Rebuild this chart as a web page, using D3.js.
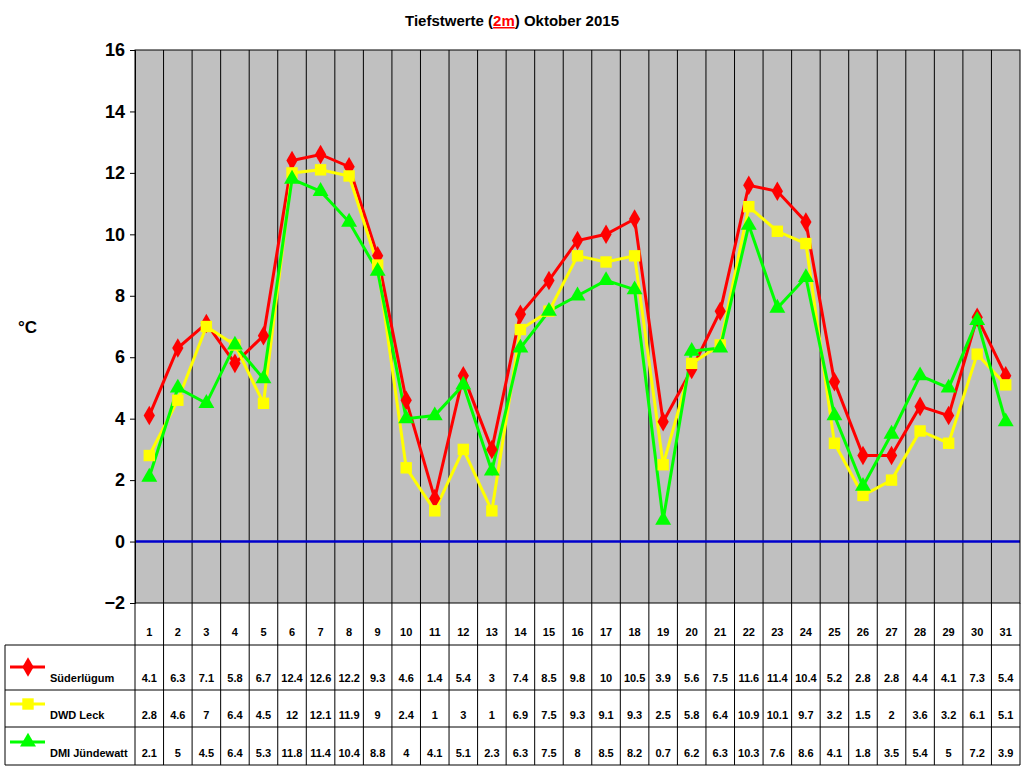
<!DOCTYPE html>
<html><head><meta charset="utf-8">
<script src="https://cdn.jsdelivr.net/npm/d3@7"></script>
<style>body{margin:0;background:#fff}text{font-family:"Liberation Sans",Arial,sans-serif;font-weight:bold}</style>
</head><body><svg id="c" width="1024" height="768"></svg>
<script>
var days = d3.range(1, 32)
var yTicks = [-2, 0, 2, 4, 6, 8, 10, 12, 14, 16]
var suederluegum = [4.1,6.3,7.1,5.8,6.7,12.4,12.6,12.2,9.3,4.6,1.4,5.4,3,7.4,8.5,9.8,10,10.5,3.9,5.6,7.5,11.6,11.4,10.4,5.2,2.8,2.8,4.4,4.1,7.3,5.4]
var dwdLeck = [2.8,4.6,7,6.4,4.5,12,12.1,11.9,9,2.4,1,3,1,6.9,7.5,9.3,9.1,9.3,2.5,5.8,6.4,10.9,10.1,9.7,3.2,1.5,2,3.6,3.2,6.1,5.1]
var dmiJuendewatt = [2.1,5,4.5,6.4,5.3,11.8,11.4,10.4,8.8,4,4.1,5.1,2.3,6.3,7.5,8,8.5,8.2,0.7,6.2,6.3,10.3,7.6,8.6,4.1,1.8,3.5,5.4,5,7.2,3.9]

var series = [
  { name: 'Süderlügum', values: suederluegum, color: '#ff0000', sym: d3.symbolDiamond, size: 110 },
  { name: 'DWD Leck', values: dwdLeck, color: '#ffff00', sym: d3.symbolSquare, size: 130 },
  { name: 'DMI Jündewatt', values: dmiJuendewatt, color: '#00ff00', sym: d3.symbolTriangle, size: 110 }
]

var svg = d3.select('#c')
var L = 135, R = 1020, T = 50, B = 603
var x = d3.scaleBand().domain(days).range([L, R])
var y = d3.scaleLinear().domain([-2, 16]).range([B, T])
var cx = function (d) { return x(d) + x.bandwidth() / 2 }

svg.append('rect').attr('x', L).attr('y', T).attr('width', R - L).attr('height', B - T).attr('fill', '#c0c0c0')

// vertical grid
svg.selectAll('line.v').data(days.slice(1)).enter().append('line')
  .attr('x1', function (d) { return x(d) }).attr('x2', function (d) { return x(d) })
  .attr('y1', T).attr('y2', 765).attr('stroke', '#000')

svg.append('line').attr('x1', L).attr('x2', R).attr('y1', y(0)).attr('y2', y(0)).attr('stroke', '#0000cc').attr('stroke-width', 2.5)

var ax = svg.append('g').attr('transform', 'translate(' + L + ',0)')
  .call(d3.axisLeft(y).tickValues(yTicks).tickSize(5).tickFormat(d3.format('d')))
ax.selectAll('text').attr('font-size', 18).attr('font-weight', 'bold').attr('dx', -2)
ax.select('.domain').attr('stroke', '#000')

svg.append('rect').attr('x', L).attr('y', T).attr('width', R - L).attr('height', B - T).attr('fill', 'none').attr('stroke', '#000')

svg.append('text').attr('x', 18).attr('y', 333).attr('font-size', 17).text('°C')

var title = svg.append('text').attr('x', 512).attr('y', 26).attr('text-anchor', 'middle').attr('font-size', 15)
title.append('tspan').text('Tiefstwerte (')
title.append('tspan').attr('fill', '#ff0000').attr('text-decoration', 'underline').text('2m')
title.append('tspan').text(') Oktober 2015')

var line = d3.line().x(function (d, i) { return cx(days[i]) }).y(function (d) { return y(d) })
series.forEach(function (s) {
  svg.append('path').datum(s.values).attr('d', line).attr('fill', 'none').attr('stroke', s.color).attr('stroke-width', 3)
})
series.forEach(function (s) {
  svg.selectAll(null).data(s.values).enter().append('path')
    .attr('d', d3.symbol().type(s.sym).size(s.size))
    .attr('transform', function (d, i) { return 'translate(' + cx(days[i]) + ',' + y(d) + ')' })
    .attr('fill', s.color)
})

// table
var rows = [603, 645, 690, 727, 765]
svg.selectAll('line.h').data(rows.slice(1)).enter().append('line')
  .attr('x1', 5).attr('x2', R).attr('y1', function (d) { return d }).attr('y2', function (d) { return d }).attr('stroke', '#000')
svg.append('line').attr('x1', 5).attr('x2', 5).attr('y1', 645).attr('y2', 765).attr('stroke', '#000')
svg.append('line').attr('x1', R).attr('x2', R).attr('y1', B).attr('y2', 765).attr('stroke', '#000')
svg.append('line').attr('x1', L).attr('x2', L).attr('y1', B).attr('y2', 765).attr('stroke', '#000')

svg.selectAll('text.day').data(days).enter().append('text')
  .attr('x', cx).attr('y', 636).attr('text-anchor', 'middle').attr('font-size', 11).text(function (d) { return d })

series.forEach(function (s, k) {
  var base = rows[k + 2] - 8
  svg.selectAll(null).data(s.values).enter().append('text')
    .attr('x', function (d, i) { return cx(days[i]) }).attr('y', base)
    .attr('text-anchor', 'middle').attr('font-size', 11).text(function (d) { return d })
  var ly = base - 15
  svg.append('line').attr('x1', 10).attr('x2', 45).attr('y1', ly).attr('y2', ly).attr('stroke', s.color).attr('stroke-width', 3)
  svg.append('path').attr('d', d3.symbol().type(s.sym).size(s.size)()).attr('transform', 'translate(28,' + ly + ')').attr('fill', s.color)
  svg.append('text').attr('x', 50).attr('y', base).attr('font-size', 11).text(s.name)
})
</script></body></html>
